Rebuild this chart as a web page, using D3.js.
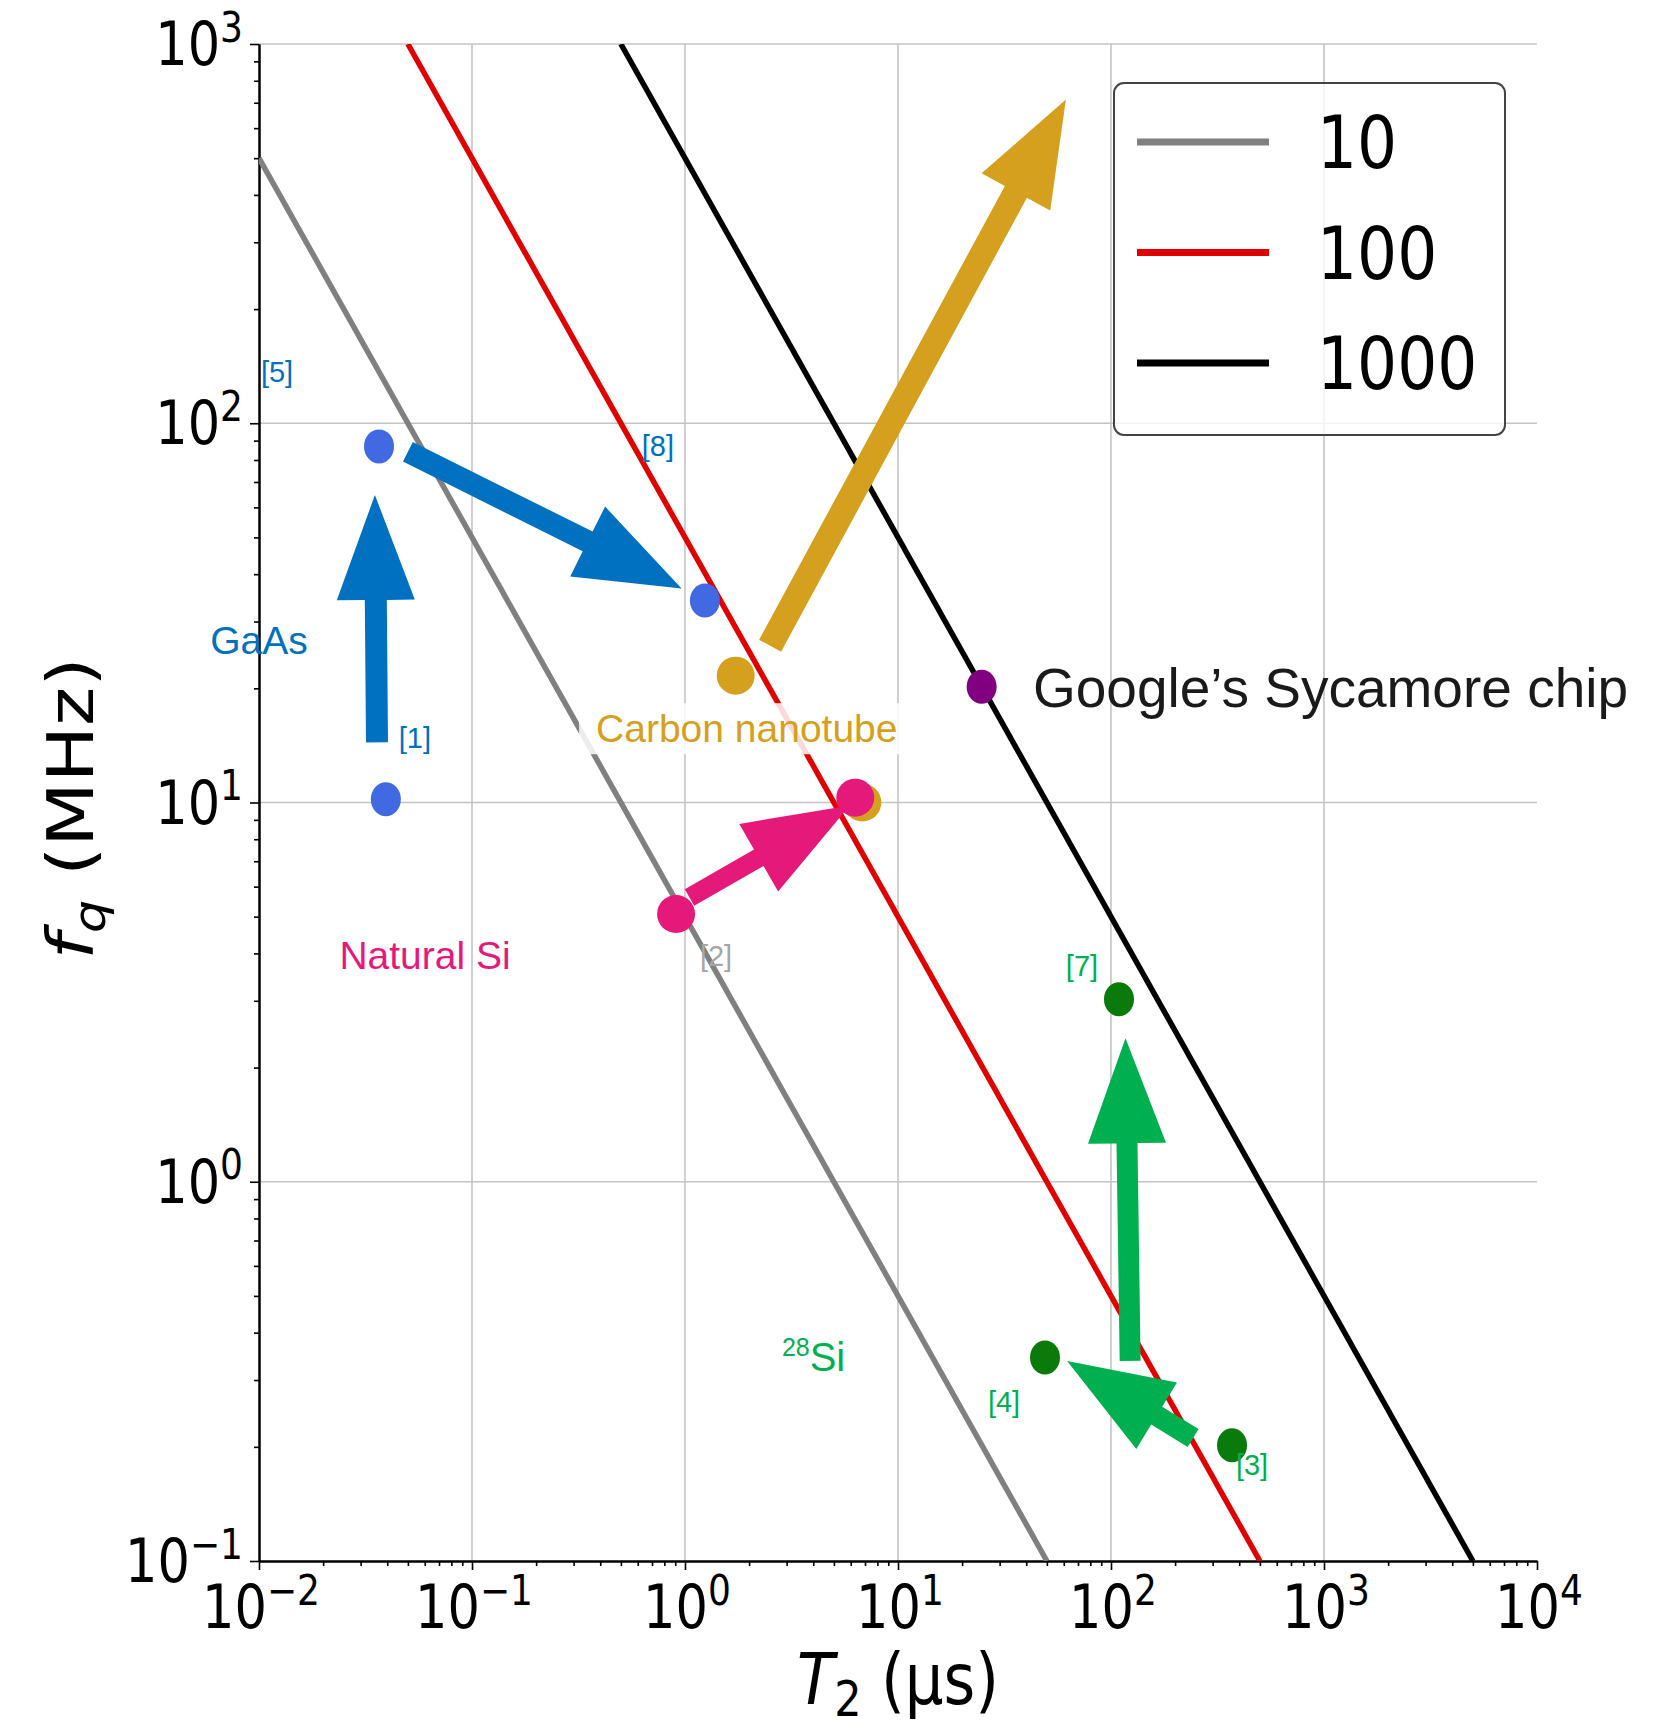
<!DOCTYPE html>
<html>
<head>
<meta charset="utf-8">
<script src="https://cdn.jsdelivr.net/npm/d3@7"></script>
<style>
    body { margin: 0; background: #ffffff; }
    svg { display: block; }
</style>
</head>
<body>
<script>
// Axis decades and their exponent labels
var xDecades = [1e-2, 1e-1, 1e0, 1e1, 1e2, 1e3, 1e4];
var xExponents = ["\u22122", "\u22121", "0", "1", "2", "3", "4"];
var yDecades = [1e-1, 1e0, 1e1, 1e2, 1e3];
var yExponents = ["\u22121", "0", "1", "2", "3"];

// Reference lines (legend name + two end points [T2, fq])
var lineNames = ["10", "100", "1000"];
var lineEnds = [
    [[0.01, 500], [50, 0.1]],
    [[0.05, 1000], [500, 0.1]],
    [[0.5, 1000], [5000, 0.1]]
];

// Qubit points
var pointGroups = ["GaAs", "GaAs", "GaAs", "CNT", "CNT", "Sycamore", "NatSi", "NatSi", "Si28", "Si28", "Si28"];
var pointT = [0.0366, 1.24, 0.0394, 1.73, 6.8, 24.7, 0.908, 6.3, 109, 49, 370];
var pointF = [86.9, 34.1, 10.2, 21.6, 10.0, 20.2, 5.08, 10.3, 3.03, 0.344, 0.202];
var pointRefs = ["[5]", "[8]", "[1]", "", "", "", "[2]", "", "[7]", "[4]", "[3]"];

// Progress arrows [T2, fq] -> [T2, fq]
var arrowGroups = ["GaAs", "GaAs", "CNT", "NatSi", "Si28", "Si28"];
var arrowFrom = [[0.0358, 14.4], [0.050, 84.1], [2.51, 25.9], [1.05, 5.62], [123, 0.337], [243, 0.211]];
var arrowTo = [[0.0350, 64.7], [0.964, 36.7], [61.4, 714], [5.94, 9.82], [117, 2.39], [62.2, 0.337]];

// Group names written on the chart
var groupLabels = ["GaAs", "Carbon nanotube", "Natural Si", "Si", "Google\u2019s Sycamore chip"];
var groupLabelKeys = ["GaAs", "CNT", "NatSi", "Si28", "Sycamore"];
var groupLabelT = [0.01, 1.95, 0.0602, 2.85, 43];
var groupLabelF = [26.8, 15.7, 3.96, 0.345, 20.2];

/* styles */
var lineColors = ["#808080", "#e00000", "#000000"];
var groupStyle = {
    GaAs:     { dot: "#4169e1", text: "#0070c0", arrow: "#0070c0", rx: 15, ry: 17, shaft: 22 },
    CNT:      { dot: "#d4a01e", text: "#d4a01e", arrow: "#d4a01e", rx: 19, ry: 19, shaft: 25 },
    Sycamore: { dot: "#800080", text: "#1a1a1a", arrow: "#800080", rx: 15, ry: 17, shaft: 22 },
    NatSi:    { dot: "#e5197a", text: "#e5197a", arrow: "#e5197a", rx: 19, ry: 19, shaft: 19 },
    Si28:     { dot: "#0a7a0a", text: "#00b050", arrow: "#00b050", rx: 15, ry: 17, shaft: 21 }
};
var refOffsets = {
    "[5]": [-102, -74], "[8]": [-47, -154], "[1]": [29, -61], "[2]": [40, 42],
    "[7]": [-37, -33], "[4]": [-41, 44], "[3]": [20, 20]
};
var refColors = { "[2]": "#a6a6a6", "[7]": "#00b050", "[4]": "#00b050", "[3]": "#00b050" };

var STRETCH = 1.17;   // matplotlib part of the figure is stretched vertically
var MPL_FONT = "'DejaVu Sans', sans-serif";
var PPT_FONT = "'Liberation Sans', Arial, sans-serif";

var W = 1670, H = 1736;
var svg = d3.select("body").append("svg").attr("width", W).attr("height", H);

var x = d3.scaleLog().domain([1e-2, 1e4]).range([259, 1537]);
var y = d3.scaleLog().domain([1e-1, 1e3]).range([1561, 44]);

svg.append("clipPath").attr("id", "plotclip")
   .append("rect")
   .attr("x", x.range()[0]).attr("y", y.range()[1])
   .attr("width", x.range()[1] - x.range()[0])
   .attr("height", y.range()[0] - y.range()[1]);

// Grid
svg.append("g").selectAll("line").data(xDecades.slice(1, -1)).enter()
   .append("line")
   .attr("x1", d => x(d)).attr("x2", d => x(d))
   .attr("y1", y.range()[0]).attr("y2", y.range()[1])
   .attr("stroke", "#c4c4c4").attr("stroke-width", 1.6);
svg.append("g").selectAll("line").data(yDecades.slice(1)).enter()
   .append("line")
   .attr("y1", d => y(d)).attr("y2", d => y(d))
   .attr("x1", x.range()[0]).attr("x2", x.range()[1])
   .attr("stroke", "#c4c4c4").attr("stroke-width", 1.6);

// Axes: major and minor ticks
var xMinor = x.ticks().filter(d => xDecades.indexOf(d) < 0);
var yMinor = y.ticks().filter(d => yDecades.indexOf(d) < 0);

function styleAxis(g) {
    g.selectAll("path").attr("stroke", "#000").attr("stroke-width", 2);
    g.selectAll("line").attr("stroke", "#000").attr("stroke-width", 1.6);
}
svg.append("g").attr("transform", "translate(0," + y.range()[0] + ")")
   .call(d3.axisBottom(x).tickValues(xMinor).tickSize(5).tickFormat("").tickSizeOuter(0)).call(styleAxis);
svg.append("g").attr("transform", "translate(0," + y.range()[0] + ")")
   .call(d3.axisBottom(x).tickValues(xDecades).tickSize(9).tickFormat("").tickSizeOuter(0)).call(styleAxis);
svg.append("g").attr("transform", "translate(" + x.range()[0] + ",0)")
   .call(d3.axisLeft(y).tickValues(yMinor).tickSize(5).tickFormat("").tickSizeOuter(0)).call(styleAxis);
svg.append("g").attr("transform", "translate(" + x.range()[0] + ",0)")
   .call(d3.axisLeft(y).tickValues(yDecades).tickSize(9).tickFormat("").tickSizeOuter(0)).call(styleAxis);

// Tick labels 10^n
function powerLabel(px, py, exp, anchor) {
    var t = svg.append("text")
        .attr("transform", "translate(" + px + "," + py + ") scale(1," + STRETCH + ")")
        .attr("text-anchor", anchor)
        .style("font-family", MPL_FONT)
        .style("font-size", "51px")
        .attr("fill", "#000");
    t.append("tspan").text("10");
    t.append("tspan").attr("dy", -20).style("font-size", "36px").text(exp);
}
xDecades.forEach(function(d, i) { powerLabel(x(d) + 2, y.range()[0] + 67, xExponents[i], "middle"); });
yDecades.forEach(function(d, i) { powerLabel(243, y(d) + 21, yExponents[i], "end"); });

// Axis titles
var xt = svg.append("text")
    .attr("transform", "translate(" + ((x.range()[0] + x.range()[1]) / 2) + ",1704) scale(1," + STRETCH + ")")
    .attr("text-anchor", "middle")
    .style("font-family", MPL_FONT).style("font-size", "61px");
xt.append("tspan").style("font-style", "italic").text("T");
xt.append("tspan").attr("dy", 10).style("font-size", "43px").text("2");
xt.append("tspan").attr("dy", -10).text(" (\u00b5s)");

var yt = svg.append("text")
    .attr("transform", "translate(93," + ((y.range()[0] + y.range()[1]) / 2 + 6) + ") scale(1," + STRETCH + ") rotate(-90)")
    .attr("text-anchor", "middle")
    .style("font-family", MPL_FONT).style("font-size", "64px");
yt.append("tspan").style("font-style", "italic").text("f");
yt.append("tspan").attr("dy", 12).style("font-size", "45px").style("font-style", "italic").text("q");
yt.append("tspan").attr("dy", -12).text(" (MHz)");

// Reference lines
var plot = svg.append("g").attr("clip-path", "url(#plotclip)");
var lineGen = d3.line().x(d => x(d[0])).y(d => y(d[1]));
plot.selectAll("path.ref").data(lineEnds).enter()
    .append("path")
    .attr("class", "ref")
    .attr("d", lineGen)
    .attr("fill", "none")
    .attr("stroke", (d, i) => lineColors[i])
    .attr("stroke-width", 5.5);

// White box behind the carbon nanotube label
var boxLayer = svg.append("g");

// Arrows
function arrowPoints(x1, y1, x2, y2, w, hw, hl) {
    var dx = x2 - x1, dy = y2 - y1;
    var len = Math.sqrt(dx * dx + dy * dy);
    var ux = dx / len, uy = dy / len, nx = -uy, ny = ux;
    var bx = x2 - ux * hl, by = y2 - uy * hl;
    return [
        [x1 + nx * w / 2, y1 + ny * w / 2],
        [bx + nx * w / 2, by + ny * w / 2],
        [bx + nx * hw / 2, by + ny * hw / 2],
        [x2, y2],
        [bx - nx * hw / 2, by - ny * hw / 2],
        [bx - nx * w / 2, by - ny * w / 2],
        [x1 - nx * w / 2, y1 - ny * w / 2]
    ];
}

// Points
svg.append("g").selectAll("ellipse").data(pointT).enter()
   .append("ellipse")
   .attr("cx", (d, i) => x(pointT[i]))
   .attr("cy", (d, i) => y(pointF[i]))
   .attr("rx", (d, i) => groupStyle[pointGroups[i]].rx)
   .attr("ry", (d, i) => groupStyle[pointGroups[i]].ry)
   .attr("fill", (d, i) => groupStyle[pointGroups[i]].dot);

svg.append("g").selectAll("polygon").data(arrowFrom).enter()
   .append("polygon")
   .attr("points", function(d, i) {
       var st = groupStyle[arrowGroups[i]];
       return arrowPoints(x(d[0]), y(d[1]), x(arrowTo[i][0]), y(arrowTo[i][1]), st.shaft, 78, 105)
              .map(p => p[0].toFixed(1) + "," + p[1].toFixed(1)).join(" ");
   })
   .attr("fill", (d, i) => groupStyle[arrowGroups[i]].arrow);

// Reference numbers next to the points
pointRefs.forEach(function(r, i) {
    if (r === "") return;
    var off = refOffsets[r];
    svg.append("text")
       .attr("x", x(pointT[i]) + off[0])
       .attr("y", y(pointF[i]) + off[1] + 10)
       .attr("text-anchor", "middle")
       .style("font-family", PPT_FONT).style("font-size", "29px")
       .attr("fill", refColors[r] || "#0070c0")
       .text(r);
});

// Group names
groupLabels.forEach(function(name, i) {
    var key = groupLabelKeys[i];
    var px = x(groupLabelT[i]), py = y(groupLabelF[i]);
    var t = svg.append("text")
        .style("font-family", PPT_FONT)
        .attr("fill", groupStyle[key].text);
    if (key === "Sycamore") {
        t.attr("x", px).attr("y", py + 20).style("font-size", "55px").text(name);
    } else if (key === "Si28") {
        t.attr("x", px).attr("y", py + 14).style("font-size", "40px");
        t.append("tspan").attr("dy", -15).style("font-size", "25px").text("28");
        t.append("tspan").attr("dy", 15).text(name);
    } else {
        t.attr("x", px).attr("y", py + 14).attr("text-anchor", "middle").style("font-size", "39px").text(name);
        if (key === "CNT") {
            var bb = t.node().getBBox();
            boxLayer.append("rect")
                .attr("x", bb.x - 17).attr("y", bb.y - 4)
                .attr("width", bb.width + 22).attr("height", bb.height + 8)
                .attr("fill", "#ffffff").attr("fill-opacity", 0.85);
        }
    }
});

// Legend
var lg = svg.append("g");
lg.append("rect")
  .attr("x", 1114).attr("y", 83).attr("width", 391).attr("height", 352)
  .attr("rx", 10).attr("ry", 10)
  .attr("fill", "#ffffff").attr("fill-opacity", 0.8)
  .attr("stroke", "#444").attr("stroke-width", 2);
lineNames.forEach(function(name, i) {
    var ly = 142 + i * 110.5;
    lg.append("line")
      .attr("x1", 1137).attr("x2", 1269).attr("y1", ly).attr("y2", ly)
      .attr("stroke", lineColors[i]).attr("stroke-width", 7);
    lg.append("text")
      .attr("transform", "translate(1317," + (ly + 26) + ") scale(1," + STRETCH + ")")
      .style("font-family", MPL_FONT).style("font-size", "63px")
      .text(name);
});
</script>
</body>
</html>
